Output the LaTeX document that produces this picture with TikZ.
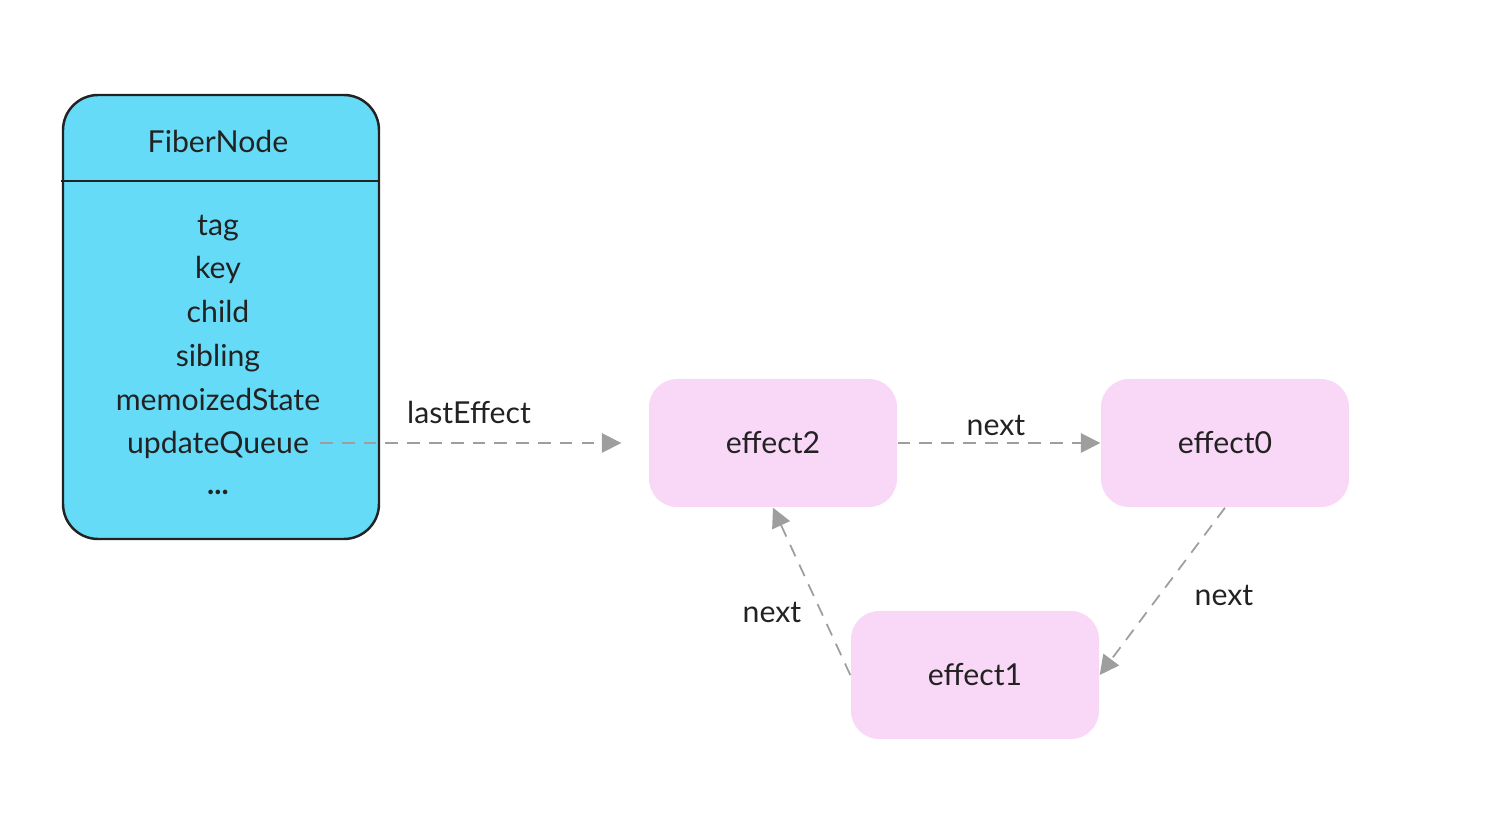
\documentclass[tikz,border=0pt]{standalone}
\usepackage{fontspec}
\setmainfont{Lato}
\usetikzlibrary{arrows.meta}
\definecolor{fibercyan}{HTML}{66DBF8}
\definecolor{effectpink}{HTML}{F8D8F6}
\definecolor{linkgray}{HTML}{9E9E9E}
\definecolor{inkdark}{HTML}{222222}
\begin{document}
\begin{tikzpicture}[font=\fontsize{8.6}{10}\selectfont, text=inkdark,
	effectbox/.style={rectangle, rounded corners=8pt, fill=effectpink, minimum width=2.48cm, minimum height=1.28cm},
	fieldtext/.style={inner sep=1pt, text height=1.6ex, text depth=0.4ex},
	link/.style={draw=linkgray, dash pattern=on 3.6pt off 2.6pt, line width=0.5pt, -{Triangle[length=5.5pt, width=5.5pt]}}]

				\useasboundingbox (0,0) rectangle (14.88,-8.26);

				\node[rectangle, rounded corners=10pt, draw=inkdark, line width=0.7pt, fill=fibercyan, minimum width=3.16cm, minimum height=4.44cm] (fibernode) at (2.21,-3.17) {};
				\draw[line width=0.6pt, inkdark] (0.61,-1.81) -- (3.79,-1.81);

				\node[fieldtext] (title) at (2.18,-1.42) [] {FiberNode};
				\node[fieldtext] (tag) at (2.18,-2.25) [] {tag};
				\node[fieldtext] (key) at (2.18,-2.68) [] {key};
				\node[fieldtext] (child) at (2.18,-3.12) [] {child};
				\node[fieldtext] (sibling) at (2.18,-3.56) [] {sibling};
				\node[fieldtext] (memoized) at (2.18,-4.00) [] {memoizedState};
				\node[fieldtext] (updatequeue) at (2.18,-4.43) [] {updateQueue};
				\node[fieldtext] (dots) at (2.18,-4.84) [] {\textbf{...}};

				\node[effectbox] (effect2) at (7.73,-4.43) [] {effect2};
				\node[effectbox] (effect0) at (12.25,-4.43) [] {effect0};
				\node[effectbox] (effect1) at (9.75,-6.75) [] {effect1};

				\draw[link, shorten <=2pt, shorten >=0.27cm] (updatequeue.east) -- (effect2.west);
				\node (lasteffect) at (4.69,-4.12) [] {lastEffect};

				\draw[link] (effect2.east) -- (effect0.west);
				\node (next20) at (9.96,-4.25) [] {next};
				\draw[link] (effect0.south) -- (effect1.east);
				\node (next01) at (12.24,-5.95) [] {next};
				\draw[link] (effect1.west) -- (effect2.south);
				\node (next12) at (7.72,-6.12) [] {next};
			\end{tikzpicture}
\end{document}
